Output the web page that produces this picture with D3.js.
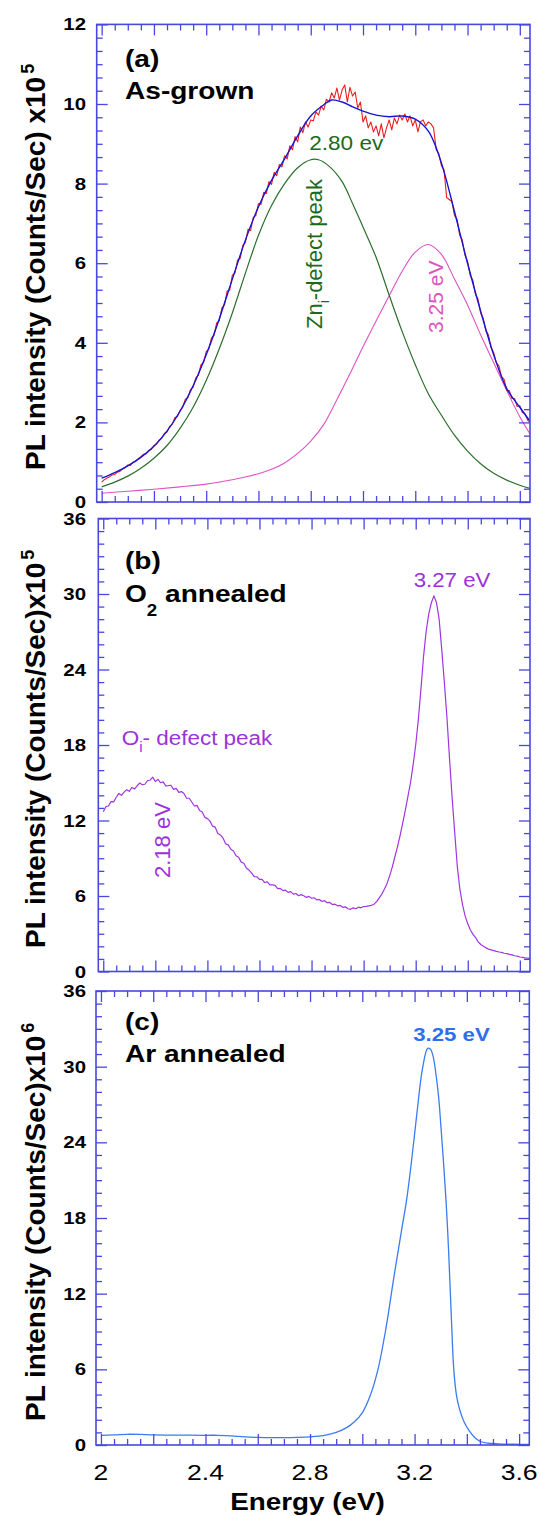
<!DOCTYPE html>
<html>
<head>
<meta charset="utf-8">
<script src="https://cdn.jsdelivr.net/npm/d3@7.9.0/dist/d3.min.js"></script>
<style>
  body { margin: 0; background: #fff; }
  svg { display: block; }
  text { font-family: Arial, "Liberation Sans", Helvetica, sans-serif; }
</style>
</head>
<body>
<svg id="chart" width="540" height="1516"></svg>
<script>
// ---- data ----
const xMajorTicks = [2, 2.2, 2.4, 2.6, 2.8, 3.0, 3.2, 3.4, 3.6];
const xTickLabels = [2, 2.4, 2.8, 3.2, 3.6];
const yTicksA = [0, 2, 4, 6, 8, 10, 12];
const yTicksBC = [0, 6, 12, 18, 24, 30, 36];

// measured spectra sampled every 0.01 eV starting at 2.00 eV
const rawStart = 2.0;
const rawStep = 0.01;

// (a) as-grown, measured (red)
const asGrownRaw = [
  0.50, 0.56, 0.60, 0.63, 0.68, 0.69, 0.75, 0.77, 0.83,
  0.86, 0.93, 0.92, 1.00, 1.02, 1.09, 1.14, 1.20,
  1.21, 1.30, 1.32, 1.42, 1.45, 1.56, 1.60, 1.72,
  1.76, 1.90, 1.95, 2.12, 2.15, 2.30,
  2.38, 2.58, 2.62, 2.83, 2.88,
  3.12, 3.18, 3.45, 3.50, 3.78,
  3.85, 4.12, 4.18, 4.50, 4.55,
  4.88, 4.95, 5.30, 5.32, 5.70,
  5.75, 6.08, 6.12, 6.45, 6.52,
  6.85, 6.82, 7.15, 7.20, 7.50,
  7.48, 7.78, 7.75, 8.05, 7.98,
  8.28, 8.20, 8.48, 8.42, 8.70,
  8.62, 8.95, 8.85, 9.18, 9.05,
  9.42, 9.28, 9.55, 9.42, 9.60,
  9.58, 9.80, 9.72, 9.95, 9.85,
  10.12, 10.05, 10.28,
  10.15, 10.40, 10.10, 10.35,
  10.48, 10.05, 10.42, 10.20,
  10.30, 9.90, 10.05, 9.55,
  9.70, 9.40, 9.55, 9.30, 9.45,
  9.20, 9.50, 9.15, 9.40, 9.60,
  9.35, 9.65, 9.50, 9.72, 9.60,
  9.75, 9.55, 9.70, 9.45, 9.60,
  9.30, 9.55, 9.60, 9.45, 9.55,
  9.50, 9.40, 8.85,
  8.75, 8.45, 8.35,
  7.65, 7.60, 7.55, 7.20,
  7.10, 6.70, 6.58, 6.20, 6.05,
  5.70, 5.58, 5.22, 5.10, 4.75,
  4.62, 4.30, 4.20, 3.88, 3.75,
  3.50, 3.42, 3.15, 3.08, 2.80,
  2.80, 2.60, 2.60, 2.40, 2.42,
  2.25, 2.22, 2.05, 2.00
];

// (a) total fit (blue)
const fitEnergy = [2.00, 2.05, 2.10, 2.15, 2.20, 2.25, 2.30, 2.35, 2.40, 2.45, 2.50, 2.55, 2.60, 2.65,
  2.70, 2.75, 2.80, 2.85, 2.88, 2.92, 2.96, 3.00, 3.05, 3.10, 3.15, 3.20, 3.25, 3.28, 3.31,
  3.35, 3.40, 3.45, 3.50, 3.55, 3.60, 3.64];
const fitIntensity = [0.60, 0.74, 0.91, 1.12, 1.40, 1.78, 2.28, 2.92, 3.70, 4.60, 5.60, 6.58, 7.42, 8.08,
  8.62, 9.20, 9.70, 9.98, 10.10, 10.05, 9.93, 9.82, 9.72, 9.68, 9.70, 9.62, 9.32, 8.90, 8.30,
  7.30, 6.00, 4.80, 3.70, 2.85, 2.38, 2.02];

// (a) Zn_i defect component (green)
const znEnergy = [2.00, 2.05, 2.10, 2.15, 2.20, 2.25, 2.30, 2.35, 2.40, 2.45, 2.50, 2.55, 2.60, 2.65,
  2.70, 2.75, 2.80, 2.83, 2.87, 2.92, 2.96, 3.00, 3.05, 3.10, 3.15, 3.20, 3.25, 3.30, 3.35,
  3.40, 3.45, 3.50, 3.55, 3.60, 3.64];
const znIntensity = [0.38, 0.50, 0.65, 0.85, 1.10, 1.42, 1.85, 2.38, 3.05, 3.85, 4.75, 5.75, 6.70, 7.45,
  8.00, 8.40, 8.60, 8.60, 8.44, 8.05, 7.50, 6.91, 6.15, 5.20, 4.28, 3.45, 2.72, 2.18, 1.68,
  1.28, 0.96, 0.72, 0.55, 0.42, 0.34];

// (a) 3.25 eV component (pink)
const nbeEnergy = [2.00, 2.10, 2.20, 2.30, 2.40, 2.50, 2.55, 2.60, 2.65, 2.70, 2.75, 2.80, 2.85, 2.90,
  2.95, 3.00, 3.05, 3.10, 3.15, 3.20, 3.25, 3.30, 3.35, 3.40, 3.45, 3.50, 3.55, 3.60, 3.64];
const nbeIntensity = [0.22, 0.27, 0.32, 0.38, 0.45, 0.56, 0.63, 0.71, 0.82, 0.98, 1.22, 1.53, 1.95, 2.57,
  3.22, 3.90, 4.55, 5.18, 5.80, 6.28, 6.47, 6.22, 5.60, 4.95, 4.20, 3.50, 2.80, 2.14, 1.70];

// (b) O2 annealed, measured (purple)
const o2Raw = [
  12.70, 13.10, 13.15, 13.50, 13.48, 13.85, 14.15, 14.00, 14.25, 14.45, 14.32,
  14.62, 14.50, 14.75, 14.98, 14.85, 14.88, 15.18, 15.20, 15.45, 15.10,
  15.27, 15.00, 15.07, 14.75, 14.77, 14.80, 14.47, 14.55, 14.23, 14.30,
  14.15, 13.77, 13.77, 13.47, 13.15, 13.20, 12.80, 12.68, 12.25, 12.15,
  11.95, 11.55, 11.47, 10.97, 10.85, 10.60, 10.15, 10.06, 9.71, 9.58,
  9.20, 9.08, 8.69, 8.60, 8.21, 8.06, 7.82, 7.54, 7.53, 7.32,
  7.32, 7.07, 7.12, 6.88, 6.88, 6.84, 6.58, 6.60, 6.43, 6.46,
  6.29, 6.35, 6.15, 6.20, 6.02, 6.11, 6.02, 5.89, 5.97, 5.82,
  5.86, 5.69, 5.72, 5.56, 5.63, 5.47, 5.49, 5.32, 5.35, 5.22,
  5.25, 5.10, 5.14, 4.99, 4.94, 5.06, 4.99, 5.11, 5.06, 5.16,
  5.18, 5.22, 5.26, 5.35, 5.55, 5.85, 6.15, 6.55, 7.00, 7.60,
  8.30, 9.10, 9.90, 10.80, 11.80, 12.80, 13.90, 15.00, 16.40, 18.00,
  20.00, 22.40, 25.00, 27.00, 28.40, 29.30, 29.85, 29.30, 28.00, 25.60,
  23.00, 20.20, 16.90, 13.80, 11.00, 8.30, 6.50, 5.30, 4.40, 3.80,
  3.30, 2.95, 2.70, 2.35, 2.15, 2.00, 1.88, 1.78, 1.72, 1.66,
  1.60, 1.55, 1.52, 1.45, 1.42, 1.36, 1.32, 1.25, 1.22, 1.15,
  1.12, 1.08, 1.06, 1.04
];

// (c) Ar annealed (blue)
const arEnergy = [2.00, 2.05, 2.10, 2.15, 2.20, 2.30, 2.40, 2.45, 2.50, 2.55, 2.60, 2.65, 2.70, 2.75,
  2.80, 2.85, 2.90, 2.94, 2.97, 3.00, 3.03, 3.06, 3.09, 3.12, 3.15, 3.17, 3.19, 3.21, 3.23,
  3.25, 3.26, 3.27, 3.29, 3.30, 3.32, 3.33, 3.34, 3.35, 3.36, 3.37, 3.39, 3.41, 3.43, 3.45,
  3.48, 3.52, 3.58, 3.64];
const arIntensity = [0.77, 0.80, 0.85, 0.84, 0.80, 0.78, 0.77, 0.77, 0.72, 0.64, 0.60, 0.58, 0.58, 0.60,
  0.65, 0.75, 1.00, 1.38, 1.85, 2.55, 3.90, 6.00, 9.20, 13.20, 17.00, 19.50, 22.80, 26.50, 29.80,
  31.45, 31.40, 30.90, 28.00, 25.50, 19.50, 15.50, 10.50, 6.00, 4.00, 3.00, 1.80, 1.10, 0.60, 0.30,
  0.15, 0.09, 0.06, 0.05];

// ---- drawing ----
const AXIS = '#4848de';
const svg = d3.select('#chart');
const zip = (xs, ys) => xs.map((x, i) => [x, ys[i]]);
const rawPairs = (vals) => vals.map((v, i) => [rawStart + i * rawStep, v]);

const panels = [
  { key: 'a', left: 96.7, right: 530, top: 24.4, bottom: 502, yMax: 12, yStep: 2, yMinor: 2 / 6, yTicks: yTicksA },
  { key: 'b', left: 98.3, right: 530, top: 518.5, bottom: 971.5, yMax: 36, yStep: 6, yMinor: 1, yTicks: yTicksBC },
  { key: 'c', left: 96, right: 529.3, top: 991, bottom: 1445, yMax: 36, yStep: 6, yMinor: 1, yTicks: yTicksBC }
];

// horizontal text is drawn a little wider than the stock font
function hText(g, x, y, str, size, opts = {}) {
  return g.append('text')
    .attr('transform', `translate(${x},${y}) scale(${opts.sx || 1.18},1)`)
    .attr('text-anchor', opts.anchor || 'start')
    .attr('font-size', size)
    .attr('font-weight', opts.bold ? 'bold' : 'normal')
    .attr('fill', opts.fill || '#000')
    .text(str);
}

function vText(g, x, y, size, fill, bold) {
  return g.append('text')
    .attr('transform', `translate(${x},${y}) rotate(-90)`)
    .attr('font-size', size)
    .attr('font-weight', bold ? 'bold' : 'normal')
    .attr('fill', fill);
}

panels.forEach((p) => {
  p.x = d3.scaleLinear().domain([1.981, 3.639]).range([p.left, p.right]);
  p.y = d3.scaleLinear().domain([0, p.yMax]).range([p.bottom, p.top]);
  const g = svg.append('g').attr('class', 'panel-' + p.key);

  const clipId = 'clip-' + p.key;
  svg.append('clipPath').attr('id', clipId)
    .append('rect')
    .attr('x', p.left).attr('y', p.top)
    .attr('width', p.right - p.left).attr('height', p.bottom - p.top);
  p.plot = g.append('g').attr('clip-path', `url(#${clipId})`);

  const xMinor = d3.range(2, 3.64, 0.05).filter((v) => Math.abs(Math.round(v * 5) - v * 5) > 1e-6);
  const yMinor = d3.range(0, p.yMax + 1e-6, p.yMinor)
    .filter((v) => Math.abs(Math.round(v / p.yStep) * p.yStep - v) > 1e-6);

  const axes = [
    [d3.axisBottom(p.x), `translate(0,${p.bottom})`, xMajorTicks, xMinor],
    [d3.axisTop(p.x), `translate(0,${p.top})`, xMajorTicks, xMinor],
    [d3.axisLeft(p.y), `translate(${p.left},0)`, p.yTicks, yMinor],
    [d3.axisRight(p.y), `translate(${p.right},0)`, p.yTicks, yMinor]
  ];
  axes.forEach(([axis, tr, major, minor]) => {
    [[major, -11], [minor, -6]].forEach(([vals, size]) => {
      const ag = g.append('g')
        .attr('transform', tr)
        .call(axis.tickValues(vals).tickSize(size).tickFormat(''));
      ag.select('.domain').remove();
      ag.selectAll('line').attr('stroke', AXIS).attr('stroke-width', 1.3);
    });
  });

  g.append('rect')
    .attr('x', p.left).attr('y', p.top)
    .attr('width', p.right - p.left).attr('height', p.bottom - p.top)
    .attr('fill', 'none').attr('stroke', AXIS).attr('stroke-width', 1.6);

  // y tick labels
  p.yTicks.forEach((v) => {
    hText(g, 86, p.y(v) + 6, String(v), 17, { bold: true, anchor: 'end', sx: 1.2 });
  });
});

function drawLine(p, pts, color, width, curve) {
  const line = d3.line()
    .x((d) => p.x(d[0]))
    .y((d) => p.y(d[1]))
    .curve(curve || d3.curveLinear);
  p.plot.append('path')
    .attr('d', line(pts))
    .attr('fill', 'none')
    .attr('stroke', color)
    .attr('stroke-width', width)
    .attr('stroke-linejoin', 'round');
}

const [pa, pb, pc] = panels;

// panel (a)
drawLine(pa, zip(nbeEnergy, nbeIntensity), '#e052c0', 1.1, d3.curveCatmullRom);
drawLine(pa, zip(znEnergy, znIntensity), '#2b6e2b', 1.2, d3.curveCatmullRom);
drawLine(pa, rawPairs(asGrownRaw), '#ee1c1c', 1.1);
drawLine(pa, zip(fitEnergy, fitIntensity), '#1414d4', 1.4, d3.curveCatmullRom);

// panel (b)
drawLine(pb, rawPairs(o2Raw), '#a035e2', 1.2);

// panel (c)
drawLine(pc, zip(arEnergy, arIntensity), '#3b7bf3', 1.3, d3.curveCatmullRom);

// y-axis titles
const titles = [
  [pa, 470, 'PL intensity (Counts/Sec) x10', '5'],
  [pb, 948, 'PL intensity (Counts/Sec)x10', '5'],
  [pc, 1421, 'PL intensity (Counts/Sec)x10', '6']
];
titles.forEach(([p, y0, str, exp]) => {
  const t = vText(svg, 45, y0, 28, '#000', true);
  t.append('tspan').text(str);
  t.append('tspan').attr('dy', -11).attr('dx', 3).attr('font-size', 18).text(exp);
});

// panel labels
hText(svg, 125, 66.7, '(a)', 24, { bold: true, sx: 1.17 });
hText(svg, 125, 99, 'As-grown', 24, { bold: true, sx: 1.17 });
hText(svg, 125, 568.5, '(b)', 24, { bold: true, sx: 1.17 });
const o2 = hText(svg, 125, 601.5, '', 24, { bold: true, sx: 1.17 });
o2.append('tspan').text('O');
o2.append('tspan').attr('dy', 15).attr('font-size', 16).text('2');
o2.append('tspan').attr('dy', -15).text(' annealed');
hText(svg, 125, 1030, '(c)', 24, { bold: true, sx: 1.17 });
hText(svg, 125, 1062, 'Ar annealed', 24, { bold: true, sx: 1.17 });

// annotations (a)
hText(svg, 309.3, 149.5, '2.80 ev', 20.5, { fill: '#1b6a1b', sx: 1.1 });
const zn = vText(svg, 322, 329, 22, '#1b6a1b');
zn.append('tspan').text('Zn');
zn.append('tspan').attr('dy', 7).attr('font-size', 14).text('i');
zn.append('tspan').attr('dy', -7).text('-defect peak');
vText(svg, 443, 333, 21, '#dd55bb').text('3.25 eV');

// annotations (b)
hText(svg, 452, 586.5, '3.27 eV', 21, { fill: '#9b32dc', anchor: 'middle', sx: 1.06 });
const oi = hText(svg, 121.7, 745, '', 21, { fill: '#9b32dc', sx: 1.07 });
oi.append('tspan').text('O');
oi.append('tspan').attr('dy', 7).attr('font-size', 14).text('i');
oi.append('tspan').attr('dy', -7).text('- defect peak');
vText(svg, 170, 878, 22, '#9b32dc').text('2.18 eV');

// annotations (c)
hText(svg, 451.5, 1041, '3.25 eV', 19, { fill: '#2f6fef', anchor: 'middle', bold: true, sx: 1.17 });

// x axis labels
xTickLabels.forEach((v) => {
  hText(svg, pc.x(v), 1480, String(v), 22.5, { anchor: 'middle', sx: 1.18 });
});
hText(svg, 307.5, 1510, 'Energy (eV)', 24, { bold: true, anchor: 'middle', sx: 1.16 });
</script>
</body>
</html>
